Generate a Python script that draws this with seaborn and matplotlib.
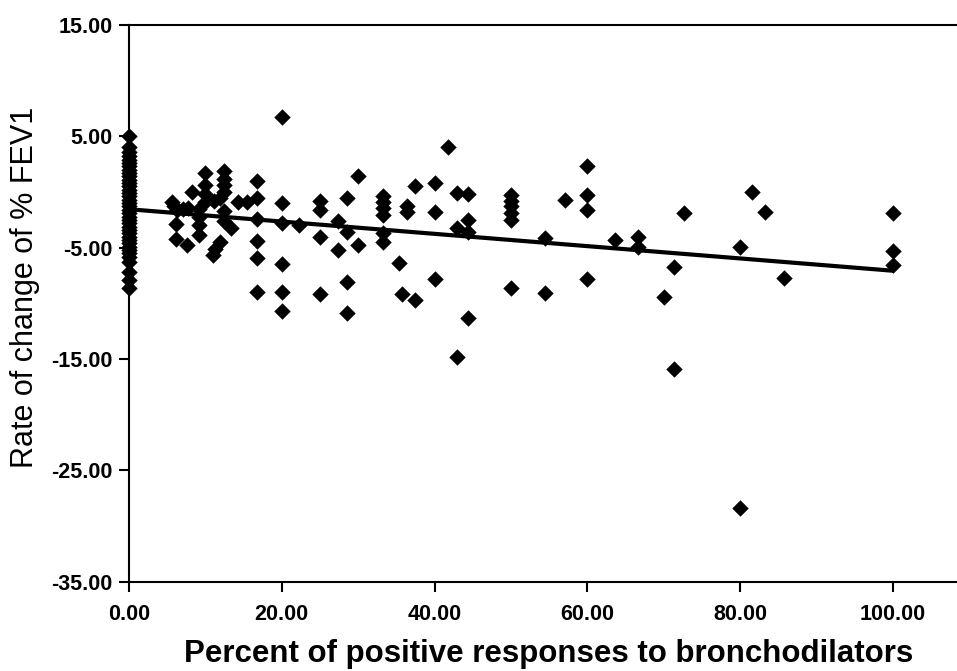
import matplotlib
matplotlib.use("Agg")
import matplotlib.pyplot as plt
import seaborn as sns
import pandas as pd

# percent of positive bronchodilator responses (x) and rate of change of %FEV1 (y)
pct = (
    [0.0] * 38
    + [5.6, 5.9, 6.3, 6.2, 6.2, 7.1, 7.7, 7.6, 8.3]
    + [9.1, 9.1, 9.1, 9.1, 10.0, 10.0, 10.0, 10.0, 11.1]
    + [11.9, 11.3, 11.0, 11.9]
    + [12.5, 12.5, 12.5, 12.5, 12.5, 12.5, 13.4, 14.3, 15.4]
    + [16.7, 16.7, 16.7, 16.7, 16.7, 16.7]
    + [20.0, 20.0, 20.0, 20.0, 20.0, 20.0, 22.2]
    + [25.0, 25.0, 25.0, 25.0, 27.3, 27.3]
    + [28.6, 28.6, 28.6, 28.6, 30.0, 30.0]
    + [33.3, 33.3, 33.3, 33.3, 33.3, 33.3]
    + [35.3, 35.7, 36.4, 36.4, 37.5, 37.5]
    + [40.0, 40.0, 40.0, 41.7]
    + [42.9, 42.9, 42.9, 44.4, 44.4, 44.4, 44.4]
    + [50.0, 50.0, 50.0, 50.0, 50.0, 50.0]
    + [54.5, 54.5, 57.1, 60.0, 60.0, 60.0, 60.0, 63.6]
    + [66.7, 66.7, 70.0, 71.4, 71.4, 72.7]
    + [80.0, 80.0, 81.5, 83.3, 85.7]
    + [100.0, 100.0, 100.0]
)
rate = (
    [5.0, 4.0, 3.6, 3.2, 2.9, 2.6, 2.3, 2.0, 1.7, 1.4,
     1.1, 0.8, 0.5, 0.2, -0.1, -0.4, -0.7, -1.0, -1.3, -1.6,
     -1.9, -2.2, -2.5, -2.8, -3.1, -3.4, -3.7, -4.0, -4.3, -4.6,
     -4.9, -5.2, -5.5, -5.8, -6.3, -7.2, -7.9, -8.6]
    + [-0.9, -1.3, -1.6, -2.9, -4.2, -1.5, -1.4, -4.8, 0.0]
    + [-1.5, -2.2, -3.0, -3.9, 1.7, 0.6, -0.2, -0.9, -0.8]
    + [-4.5, -5.1, -5.7, -0.5]
    + [1.9, 1.2, 0.6, 0.0, -1.7, -2.6, -3.2, -0.9, -0.9]
    + [1.0, -0.5, -2.4, -4.4, -5.9, -9.0]
    + [6.7, -1.0, -2.8, -6.5, -9.0, -10.7, -3.0]
    + [-0.8, -1.6, -4.0, -9.2, -2.6, -5.2]
    + [-0.5, -3.6, -8.1, -10.9, 1.4, -4.8]
    + [-0.4, -0.9, -1.4, -2.1, -3.7, -4.5]
    + [-6.4, -9.2, -1.3, -1.8, 0.5, -9.7]
    + [0.8, -1.8, -7.8, 4.0]
    + [-0.1, -3.2, -14.8, -0.2, -2.5, -3.6, -11.3]
    + [-0.3, -0.8, -1.3, -1.9, -2.5, -8.6]
    + [-4.1, -9.1, -0.7, 2.3, -0.3, -1.6, -7.8, -4.3]
    + [-4.0, -4.9, -9.4, -6.7, -15.9, -1.9]
    + [-4.9, -28.4, 0.0, -1.8, -7.7]
    + [-1.9, -5.3, -6.6]
)

x_ticks = [0, 20, 40, 60, 80, 100]
y_ticks = [-35, -25, -15, -5, 5, 15]

df = pd.DataFrame({"pct": pct, "rate": rate})

sns.set_style("ticks")
plt.rcParams["font.family"] = ["Liberation Sans", "DejaVu Sans"]

fig = plt.figure(figsize=(9.57, 6.71), dpi=100)
ax = fig.add_axes([129 / 957, 89.3 / 671, 828 / 957, 556.7 / 671])

sns.regplot(data=df, x="pct", y="rate", ax=ax, ci=None, marker="D",
            scatter_kws=dict(s=70, color="black", linewidths=0, alpha=1,
                             clip_on=False, zorder=3),
            line_kws=dict(color="black", lw=3, zorder=4))

ax.set_xlim(0, 108.4)
ax.set_ylim(-35, 15)
ax.set_xticks(x_ticks)
ax.set_yticks(y_ticks)
ax.set_xticklabels([f"{v:.2f}" for v in x_ticks], fontweight="bold")
ax.set_yticklabels([f"{v:.2f}" for v in y_ticks], fontweight="bold")
ax.tick_params(axis="both", direction="out", length=7, width=1.5,
               labelsize=15.5, color="black", labelcolor="black")
ax.tick_params(axis="x", pad=9)
ax.tick_params(axis="y", pad=5)

ax.spines["right"].set_visible(False)
for side in ["top", "left", "bottom"]:
    ax.spines[side].set_linewidth(1.5)
    ax.spines[side].set_color("black")

ax.set_xlabel("Percent of positive responses to bronchodilators",
              fontsize=22.5, fontweight="bold", color="black")
ax.set_ylabel("Rate of change of % FEV1", fontsize=22, color="black")
ax.xaxis.set_label_coords(0.507, -0.103)
ax.yaxis.set_label_coords(-0.108, 0.529)

fig.savefig("out.png", dpi=100)
